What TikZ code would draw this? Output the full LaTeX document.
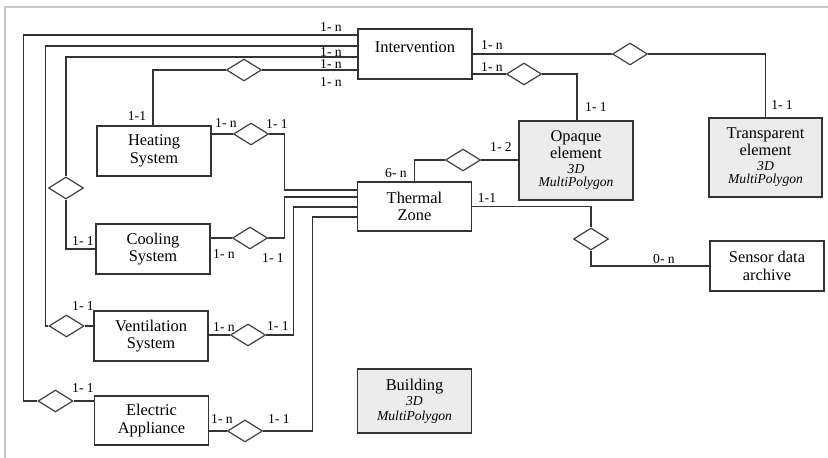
\documentclass[tikz,border=0pt]{standalone}
\usepackage{fontspec}
\setmainfont{Liberation Serif}
\usepackage{xcolor}
\usepackage{tikz}
\usetikzlibrary{shapes.geometric}

\newcommand{\itsz}{\fontsize{6.8}{7.2}\selectfont\itshape}
\tikzset{
  entity/.style={draw=black!80, line width=0.6pt, minimum width=57pt, minimum height=25pt,
    align=center, inner sep=1pt, font=\fontsize{8.2}{8.8}\selectfont},
  spatial/.style={entity, fill=gray!15},
  rel/.style={diamond, draw=black!75, line width=0.6pt, fill=white,
    minimum width=17.5pt, minimum height=11pt, inner sep=0pt},
  card/.style={inner sep=0pt, font=\fontsize{6.8}{7.5}\selectfont},
  link/.style={draw=black!80, line width=0.6pt},
}

\begin{document}
\begin{tikzpicture}[x=0.5pt, y=-0.5pt]
  \useasboundingbox (0,0) rectangle (828,458);
  % frame
  \draw[gray!45, line width=1pt] (5,458) -- (5,7) -- (828,7);

  % entities
  \node[entity, minimum height=25pt, text depth=7pt] (interv) at (415,54) {Intervention};
  \node[entity] (heat) at (154,151) {Heating\\System};
  \node[entity] (cool) at (153,249) {Cooling\\System};
  \node[entity] (vent) at (151,336) {Ventilation\\System};
  \node[entity, minimum height=24.5pt] (elec) at (151.5,420.5) {Electric\\Appliance};
  \node[entity, minimum height=24.5pt] (therm) at (414.5,206.5) {Thermal\\Zone};
  \node[entity] (sensor) at (767,266) {Sensor data\\[0.2pt]archive};
  \node[spatial, minimum height=39.5pt] (opaque) at (576,160.5)
    {Opaque\\[-0.6pt]element\\[-1pt]{\itsz 3D}\\[-2.3pt]{\itsz MultiPolygon}};
  \node[spatial, minimum width=56.5pt, minimum height=39.5pt] (transp) at (765.5,157.5)
    {Transparent\\[-0.6pt]element\\[-1pt]{\itsz 3D}\\[-2.3pt]{\itsz MultiPolygon}};
  \node[spatial, minimum height=32pt] (build) at (414.5,401)
    {Building\\[-1.3pt]{\itsz 3D}\\[-1.3pt]{\itsz MultiPolygon}};

  % relationships
  \node[rel] (dHeatInt) at (244,70) {};
  \node[rel] (dOpInt) at (524,74) {};
  \node[rel] (dTrInt) at (630,54) {};
  \node[rel] (dHeatTz) at (251,134) {};
  \node[rel] (dCoolTz) at (250,238) {};
  \node[rel] (dVentTz) at (248,335) {};
  \node[rel] (dElecTz) at (245,431) {};
  \node[rel] (dOpTz) at (463,160) {};
  \node[rel] (dSens) at (591,239) {};
  \node[rel] (dCool) at (66,188) {};
  \node[rel] (dVent) at (66.5,326) {};
  \node[rel] (dElec) at (55.5,401) {};

  % links to Intervention
  \draw[link] (dElec.west) -- ++(-14,0) |- (interv.west |- 0,35);
  \draw[link] (dElec.east) -- (elec.west |- dElec);
  \draw[link] (dVent.west) -- ++(-3,0) |- (interv.west |- 0,46);
  \draw[link] (dVent.east) -- (vent.west |- dVent);
  \draw[link] (dCool.north) |- (interv.west |- 0,57);
  \draw[link] (dCool.south) |- (cool.west);
  \draw[link] (heat.north -| 153,0) |- (dHeatInt.west);
  \draw[link] (dHeatInt.east) -- (interv.west |- dHeatInt);
  \draw[link] (opaque.north -| 577,0) |- (dOpInt.east);
  \draw[link] (dOpInt.west) -- (interv.east |- dOpInt);
  \draw[link] (transp.north) |- (dTrInt.east);
  \draw[link] (dTrInt.west) -- (interv.east |- dTrInt);

  % links to Thermal Zone
  \draw[link] (heat.east |- dHeatTz) -- (dHeatTz.west);
  \draw[link] (dHeatTz.east) -- ++(15,0) |- (therm.west |- 0,190);
  \draw[link] (cool.east |- dCoolTz) -- (dCoolTz.west);
  \draw[link] (dCoolTz.east) -- ++(16,0) |- (therm.west |- 0,197);
  \draw[link] (vent.east |- dVentTz) -- (dVentTz.west);
  \draw[link] (dVentTz.east) -- ++(27,0) |- (therm.west |- 0,207);
  \draw[link] (elec.east |- dElecTz) -- (dElecTz.west);
  \draw[link] (dElecTz.east) -- ++(49,0) |- (therm.west |- 0,217);
  \draw[link] (opaque.west |- dOpTz) -- (dOpTz.east);
  \draw[link] (dOpTz.west) -| (therm.north);
  \draw[link] (therm.east) -| (dSens.north);
  \draw[link] (dSens.south) |- (sensor.west);

  % cardinalities
  \node[card] (cI1) at (331,27) {1- n};
  \node[card] (cI2) at (331,52) {1- n};
  \node[card] (cI3) at (331,64) {1- n};
  \node[card] (cI4) at (331,82) {1- n};
  \node[card] (cI5) at (492,45) {1- n};
  \node[card] (cI6) at (492,67) {1- n};
  \node[card] (cOp1) at (596,107) {1- 1};
  \node[card] (cTr1) at (782,105) {1- 1};
  \node[card] (cOp2) at (501,147) {1- 2};
  \node[card] (cTz1) at (396,173) {6- n};
  \node[card] (cTz2) at (487,198) {1-1};
  \node[card] (cSe1) at (664,259) {0- n};
  \node[card] (cHe1) at (137,116) {1-1};
  \node[card] (cHe2) at (226,123) {1- n};
  \node[card] (cHe3) at (277,124) {1- 1};
  \node[card] (cCo1) at (83,241) {1- 1};
  \node[card] (cCo2) at (224,254) {1- n};
  \node[card] (cCo3) at (273,258) {1- 1};
  \node[card] (cVe1) at (83,306) {1- 1};
  \node[card] (cVe2) at (224,327) {1- n};
  \node[card] (cVe3) at (278,326) {1- 1};
  \node[card] (cEl1) at (83,388) {1- 1};
  \node[card] (cEl2) at (222,419) {1- n};
  \node[card] (cEl3) at (279,419) {1- 1};
\end{tikzpicture}
\end{document}
